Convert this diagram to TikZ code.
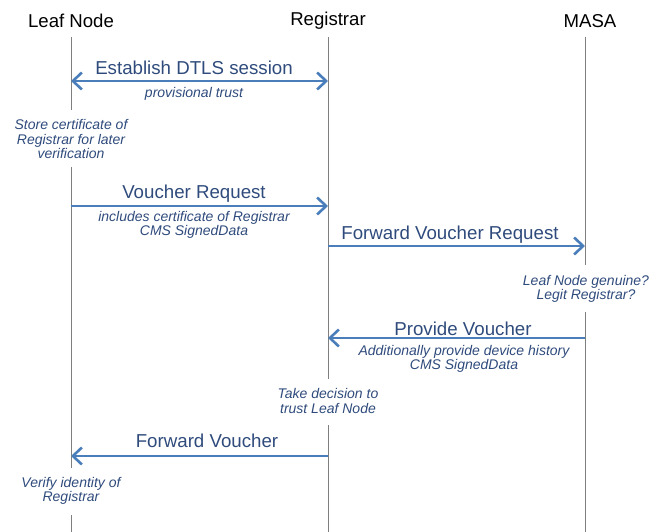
\documentclass[tikz,border=0pt]{standalone}
\usepackage{fontspec}
\setmainfont{Liberation Sans}
\usetikzlibrary{arrows.meta}
\definecolor{msgblue}{HTML}{4A7EBB}
\definecolor{labelblue}{HTML}{2F4B7C}
\definecolor{lifegray}{HTML}{7F7F7F}
\tikzset{
  x=1pt, y=-1pt,
  actor/.style={font=\fontsize{18.6}{20}\selectfont, text=black, inner sep=0pt},
  lifeline/.style={draw=lifegray, line width=0.9pt},
  msg/.style={draw=msgblue, line width=2.8pt,
    -{Straight Barb[length=9pt,width=17pt,line width=2.6pt]}},
  biMsg/.style={draw=msgblue, line width=2.8pt,
    {Straight Barb[length=9pt,width=17pt,line width=2.6pt]}-{Straight Barb[length=9pt,width=17pt,line width=2.6pt]}},
  msglabel/.style={font=\fontsize{18.7}{20}\selectfont, text=labelblue, inner sep=0pt},
  sublabel/.style={font=\fontsize{14}{14.5}\selectfont\itshape, text=labelblue, inner sep=0pt, align=center},
  noteText/.style={font=\fontsize{14}{14.6}\selectfont\itshape, text=labelblue, inner sep=0pt, align=center}
}
\begin{document}
\begin{tikzpicture}
\useasboundingbox (0,0) rectangle (662,532);

% participants
\node[actor] (leaf) at (71,21) {Leaf Node};
\node[actor] (reg) at (328,21) {Registrar};
\node[actor] (masa) at (590,21) {MASA};

\coordinate (leafTop) at (71,37);
\coordinate (regTop) at (328,37);
\coordinate (masaTop) at (585,37);
\coordinate (leafBot) at (71,532);
\coordinate (regBot) at (328,532);
\coordinate (masaBot) at (585,532);

% notes on the lifelines
\node[noteText] (n1) at (71,139) {Store certificate of\\Registrar for later\\verification};
\node[noteText] (n2) at (586,289) {Leaf Node genuine?\\Legit Registrar?};
\node[noteText] (n3) at (328,401) {Take decision to\\trust Leaf Node};
\node[noteText] (n4) at (71,491) {Verify identity of\\Registrar};

% lifeline endpoints around the notes
\coordinate (l1) at (71,110);  \coordinate (l2) at (71,167);
\coordinate (l3) at (71,468);  \coordinate (l4) at (71,515);
\coordinate (m1) at (585,265); \coordinate (m2) at (585,312);
\coordinate (r1) at (328,379); \coordinate (r2) at (328,425);

% lifelines
\draw[lifeline] (leafTop) -- (l1) (l2) -- (l3) (l4) -- (leafBot);
\draw[lifeline] (regTop) -- (r1) (r2) -- (regBot);
\draw[lifeline] (masaTop) -- (m1) (m2) -- (masaBot);

% message anchors
\coordinate (a1L) at (71,81);   \coordinate (a1R) at (328,81);
\coordinate (a2L) at (71,206);  \coordinate (a2R) at (328,206);
\coordinate (a3L) at (328,246); \coordinate (a3R) at (585,246);
\coordinate (a4L) at (328,338); \coordinate (a4R) at (585,338);
\coordinate (a5L) at (71,456);  \coordinate (a5R) at (328,456);

% messages
\draw[biMsg] (a1L) -- (a1R);
\node[msglabel] (t1) at (194,68) {Establish DTLS session};
\node[sublabel] (s1) at (194,94) {provisional trust};

\draw[msg] (a2L) -- (a2R);
\node[msglabel] (t2) at (194,194) {Voucher Request};
\node[sublabel] (s2) at (194,225) {includes certificate of Registrar\\CMS SignedData};

\draw[msg] (a3L) -- (a3R);
\node[msglabel] (t3) at (450,235) {Forward Voucher Request};

\draw[msg] (a4R) -- (a4L);
\node[msglabel] (t4) at (463,329) {Provide Voucher};
\node[sublabel] (s4) at (464,359) {Additionally provide device history\\CMS SignedData};

\draw[msg] (a5R) -- (a5L);
\node[msglabel] (t5) at (207,441) {Forward Voucher};
\end{tikzpicture}
\end{document}
